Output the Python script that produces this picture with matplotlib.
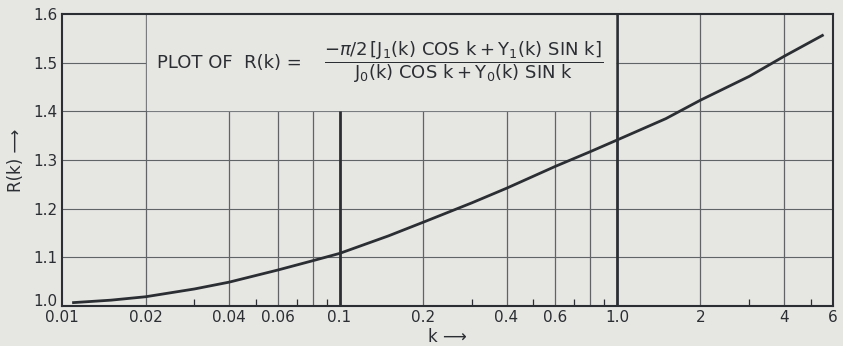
import numpy as np
import matplotlib
matplotlib.use("Agg")
import matplotlib.pyplot as plt
from matplotlib.ticker import FixedLocator, NullFormatter

plt.rcParams['font.family'] = ['DejaVu Sans']
plt.rcParams['mathtext.fontset'] = 'dejavusans'

# curve
k = [0.011, 0.015, 0.02, 0.03, 0.04, 0.06, 0.08, 0.1, 0.15, 0.2, 0.3, 0.4,
     0.6, 0.8, 1.0, 1.5, 2.0, 3.0, 4.0, 5.5]
R = [1.007, 1.012, 1.019, 1.035, 1.049, 1.074, 1.093, 1.108, 1.144, 1.172, 1.212, 1.242,
     1.287, 1.317, 1.341, 1.385, 1.423, 1.472, 1.513, 1.556]

grid_k = [0.02, 0.04, 0.06, 0.08, 0.1, 0.2, 0.4, 0.6, 0.8, 1.0, 2, 4]
bold_k = [0.1, 1.0]
minor_k = [0.03, 0.05, 0.07, 0.09, 0.3, 0.5, 0.7, 0.9, 3, 5]
xtick_vals = [0.01, 0.02, 0.04, 0.06, 0.1, 0.2, 0.4, 0.6, 1.0, 2, 4, 6]
xtick_labels = ['0.01', '0.02', '0.04', '0.06', '0.1', '0.2', '0.4', '0.6', '1.0', '2', '4', '6']
ytick_vals = [1.0, 1.1, 1.2, 1.3, 1.4, 1.5, 1.6]

paper = '#e6e6e3'
ink = '#2b2f33'
grid_col = '#606467'

fig = plt.figure(figsize=(8.43, 3.46), dpi=100, facecolor=paper)
ax = fig.add_axes([0.0736, 0.1156, 0.9144, 0.8439], facecolor=paper)
ax.set_xscale('log')
ax.set_xlim(0.01, 6)
ax.set_ylim(1.0, 1.6)

# grid
for y in ytick_vals[1:-1]:
    ax.axhline(y, color=grid_col, lw=0.8, zorder=1)
for x in grid_k:
    ax.axvline(x, color=ink if x in bold_k else grid_col,
               lw=2.0 if x in bold_k else 0.9, zorder=1)

ax.plot(k, R, color=ink, lw=2.0, zorder=3)

ax.set_xticks(xtick_vals)
ax.set_xticklabels(xtick_labels)
ax.xaxis.set_minor_locator(FixedLocator(minor_k))
ax.xaxis.set_minor_formatter(NullFormatter())
ax.set_yticks(ytick_vals)
ax.set_yticklabels(['%.1f' % v for v in ytick_vals])
ax.tick_params(axis='both', which='major', length=0, labelsize=11, colors=ink, pad=3)
ax.tick_params(axis='x', which='minor', direction='in', length=5, width=0.9, color=ink)
ax.get_yticklabels()[0].set_va('baseline')
for s in ax.spines.values():
    s.set_color(ink)
    s.set_linewidth(1.5)

ax.set_ylabel('R(k) \u27f6', fontsize=12, color=ink, labelpad=6)
ax.set_xlabel('k \u27f6', fontsize=12, color=ink, labelpad=2)

# title box between the 0.02 and 1.0 lines, down to the 1.4 line
ax.fill_between([0.0203, 0.985], 1.402, 1.597, color=paper, zorder=2)
ax.text(0.022, 1.5, 'PLOT OF  R(k) =', fontsize=13, color=ink, va='center', zorder=4)
ax.text(0.28, 1.5,
        r'$\dfrac{-\pi/2\,[\mathrm{J_1(k)\ COS\ k + Y_1(k)\ SIN\ k}]}'
        r'{\mathrm{J_0(k)\ COS\ k + Y_0(k)\ SIN\ k}}$',
        fontsize=13, color=ink, ha='center', va='center', zorder=4)

fig.savefig('out.png', dpi=100, facecolor=paper)
